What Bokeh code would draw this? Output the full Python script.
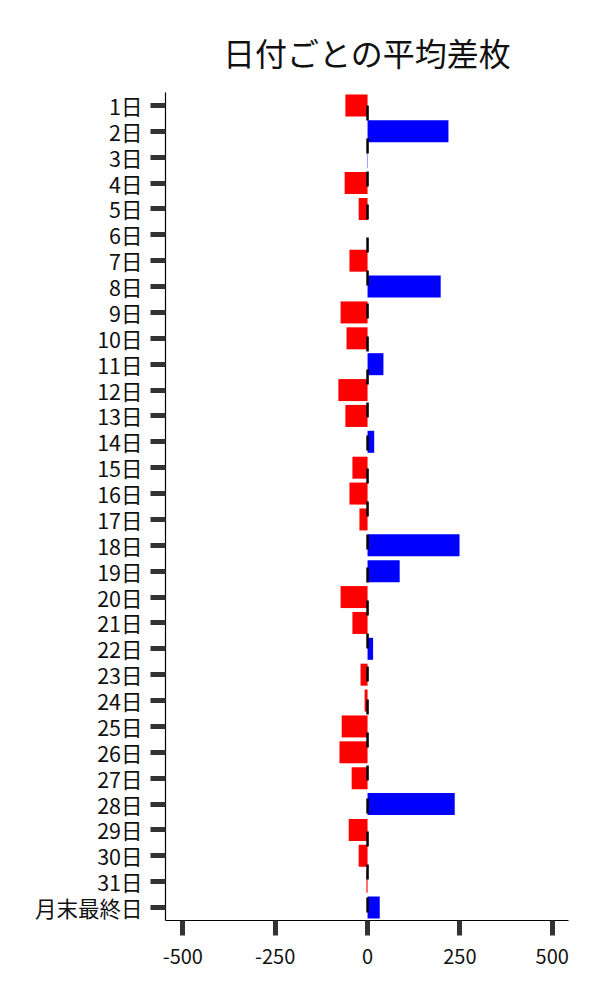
from bokeh.plotting import figure
from bokeh.models import Range1d, FactorRange, Span, FixedTicker, ColumnDataSource, Title
from bokeh.embed import file_html
from bokeh.resources import INLINE

days = [f"{i}日" for i in range(1, 32)] + ["月末最終日"]
values = [-60, 219, 1, -62, -24, 0, -49, 198, -73, -57, 43, -79, -60, 18, -41, -49,
          -22, 249, 87, -73, -41, 15, -19, -8, -70, -76, -43, 236, -51, -24, -3, 33]
colors = ["#0000ff" if v > 0 else "#ff0000" for v in values]
x_ticks = [-500, -250, 0, 250, 500]
title_text = "日付ごとの平均差枚"

FONT = "Noto Sans CJK JP"

src = ColumnDataSource(dict(day=days, value=values, color=colors))

p = figure(width=592, height=992, output_backend="svg", toolbar_location=None,
           y_range=FactorRange(*reversed(days), range_padding=0),
           x_range=Range1d(-547, 544),
           min_border_left=165, min_border_right=24, min_border_top=92, min_border_bottom=72)

p.hbar(y="day", right="value", left=0, height=0.85, color="color", line_color=None, source=src)

zero = Span(location=0, dimension="height", line_color="black", line_width=2.5,
            line_dash="15 18", line_dash_offset=20)
p.add_layout(zero)

t = Title(text=title_text, text_font=FONT, text_font_size="32px", text_font_style="normal",
          align="center", vertical_align="top", text_color="#111111", standoff=32)
p.add_layout(t, "above")

p.xgrid.visible = False
p.ygrid.visible = False
p.outline_line_color = None

for ax in (p.xaxis[0], p.yaxis[0]):
    ax.axis_line_color = "black"
    ax.axis_line_width = 1.2
    ax.major_tick_line_color = "#333333"
    ax.major_tick_line_width = 5
    ax.major_tick_out = 15
    ax.major_tick_in = 0
    ax.minor_tick_line_color = None
    ax.major_label_text_font = FONT
    ax.major_label_text_color = "#111111"

p.xaxis.major_label_text_font_size = "20px"
p.yaxis.major_label_text_font_size = "21.5px"
p.xaxis.ticker = FixedTicker(ticks=x_ticks)
p.xaxis.major_label_overrides = {t_: str(t_) for t_ in x_ticks}
p.xaxis.major_label_standoff = 13
p.yaxis.major_label_standoff = 8

open("out.html", "w").write(file_html(p, INLINE))
